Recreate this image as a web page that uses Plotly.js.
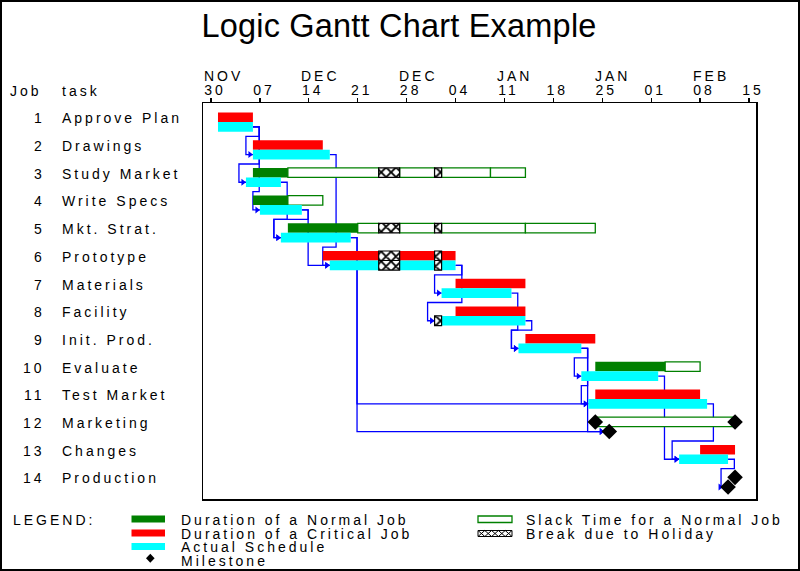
<!DOCTYPE html>
<html><head><meta charset="utf-8">
<script src="https://cdn.plot.ly/plotly-3.0.1.min.js"></script>
<style>
html,body{margin:0;padding:0;background:#fff;}
#chart{width:800px;height:571px;}
text{letter-spacing:3px;}
.gtitle{letter-spacing:0.2px;}
</style></head><body><div id="chart"></div>
<script>
// ---------------- data ----------------
const jobNumbers = [1,2,3,4,5,6,7,8,9,10,11,12,13,14];
const tasks = ['Approve Plan','Drawings','Study Market','Write Specs','Mkt. Strat.','Prototype','Materials','Facility','Init. Prod.','Evaluate','Test Market','Marketing','Changes','Production'];
const earlyStart  = ['2003-12-01','2003-12-06','2003-12-06','2003-12-06','2003-12-11','2003-12-16','2004-01-04','2004-01-04','2004-01-14','2004-01-24','2004-01-24','2004-01-24','2004-02-08','2004-02-13'];
const earlyFinish = ['2003-12-06','2003-12-16','2003-12-11','2003-12-11','2003-12-21','2004-01-04','2004-01-14','2004-01-14','2004-01-24','2004-02-03','2004-02-08','2004-01-24','2004-02-13','2004-02-13'];
const critical    = [true,true,false,false,false,true,true,true,true,false,true,false,true,true];
const lateFinish  = [null,null,'2004-01-14','2003-12-16','2004-01-24',null,null,null,null,'2004-02-08',null,'2004-02-13',null,null];
const slackBreak  = [null,null,'2004-01-09',null,'2004-01-14',null,null,null,null,null,null,null,null,null];
const actualStart = ['2003-12-01','2003-12-06','2003-12-05','2003-12-07','2003-12-10','2003-12-17','2004-01-02','2004-01-01','2004-01-13','2004-01-22','2004-01-23','2004-01-26','2004-02-05','2004-02-12'];
const actualFinish= ['2003-12-06','2003-12-17','2003-12-10','2003-12-13','2003-12-20','2004-01-04','2004-01-12','2004-01-14','2004-01-22','2004-02-02','2004-02-09','2004-01-26','2004-02-12','2004-02-12'];
const holidayStart = ['2003-12-24','2004-01-01'];
const holidayEnd   = ['2003-12-27','2004-01-02'];
const linkFrom = [1,1,1,2,3,4,4,5,5,6,6,7,8,9,9,9,10,11,13];
const linkTo   = [2,3,4,6,5,5,6,11,12,7,8,9,9,10,11,12,13,13,14];
const tickDates = ['2003-11-30','2003-12-07','2003-12-14','2003-12-21','2003-12-28','2004-01-04','2004-01-11','2004-01-18','2004-01-25','2004-02-01','2004-02-08','2004-02-15'];
const tickDayLabels   = ['30','07','14','21','28','04','11','18','25','01','08','15'];
const tickMonthLabels = ['NOV','','DEC','','DEC','','JAN','','JAN','','FEB',''];
const legendLeft  = ['Duration of a Normal Job','Duration of a Critical Job','Actual Schedule','Milestone'];
const legendRight = ['Slack Time for a Normal Job','Break due to Holiday'];

// ---------------- helpers ----------------
const FONT = '"Liberation Sans", Arial, Helvetica, sans-serif';
const T0 = Date.UTC(2003, 10, 30);
const day = s => { const p = s.split('-').map(Number); return (Date.UTC(p[0], p[1]-1, p[2]) - T0) / 864e5; };
const L = 203, R = 756, TOP = 103, BOT = 499;
const X0 = -1.145, X1 = 78.0, Y0 = 0.314, Y1 = 14.61;
const pxDay = (R - L) / (X1 - X0), pxRow = (BOT - TOP) / (Y1 - Y0);
const dX = p => p / pxDay, dY = p => p / pxRow;
const px = x => (x - L) / (R - L), py = y => (BOT - y) / (BOT - TOP);
const UP_C = -dY(4.75), UP_W = dY(9.5), LO_C = dY(4.85), LO_W = dY(9.7);
const hs = holidayStart.map(day), he = holidayEnd.map(day);

function split(a, b) {
  const work = [], hol = []; let cur = a;
  for (let i = 0; i < hs.length; i++) {
    const s = Math.max(hs[i], a), e = Math.min(he[i], b);
    if (e > s) { if (s > cur) work.push([cur, s]); hol.push([s, e]); cur = e; }
  }
  if (b > cur) work.push([cur, b]);
  return { work, hol };
}
const mk = () => ({ y: [], base: [], x: [], width: [] });
const red = mk(), green = mk(), slack = mk(), cyan = mk(), hol = mk();
const add = (t, yv, w, a, b) => { t.y.push(yv); t.base.push(a); t.x.push(b - a); t.width.push(w); };
const ms = { x: [], y: [] };

tasks.forEach((name, i) => {
  const k = i + 1, yU = k + UP_C, yL = k + LO_C;
  const es = day(earlyStart[i]), ef = day(earlyFinish[i]);
  if (ef > es) {
    const sp = split(es, ef);
    sp.work.forEach(s => add(critical[i] ? red : green, yU, UP_W, s[0], s[1]));
    sp.hol.forEach(s => add(hol, yU, UP_W, s[0], s[1]));
  } else { ms.x.push(ef); ms.y.push(yU); }
  if (lateFinish[i]) {
    const lf = day(lateFinish[i]);
    const cuts = [ef]; if (slackBreak[i]) cuts.push(day(slackBreak[i])); cuts.push(lf);
    for (let c = 0; c < cuts.length - 1; c++) {
      const sp = split(cuts[c], cuts[c+1]);
      sp.work.forEach(s => add(slack, yU, UP_W, s[0], s[1]));
      sp.hol.forEach(s => add(hol, yU, UP_W, s[0], s[1]));
    }
    if (ef === es) { ms.x.push(lf); ms.y.push(yU); }
  }
  const as = day(actualStart[i]), af = day(actualFinish[i]);
  if (af > as) {
    const sp = split(as, af);
    sp.work.forEach(s => add(cyan, yL, LO_W, s[0], s[1]));
    sp.hol.forEach(s => add(hol, yL, LO_W, s[0], s[1]));
  } else { ms.x.push(af); ms.y.push(yL); }
});

// logic links
const shapes = [];
const arrows = { x: [], y: [] };
linkFrom.forEach((f, j) => {
  const t = linkTo[j], pi = f - 1, si = t - 1;
  const xe = day(actualFinish[pi]), ye = f + LO_C;
  const xs = day(actualStart[si]), ys = t + LO_C;
  const isMs = actualStart[si] === actualFinish[si];
  const exitX = xe + dX(6.3), apprX = xs - dX(7);
  let pts;
  if (exitX <= apprX) pts = [[xe, ye], [exitX, ye], [exitX, ys], [xs, ys]];
  else { const gy = t - dY(13.4); pts = [[xe, ye], [exitX, ye], [exitX, gy], [apprX, gy], [apprX, ys], [xs, ys]]; }
  shapes.push({ type: 'path', xref: 'x', yref: 'y', layer: 'below',
    path: 'M' + pts.map(p => p[0] + ',' + p[1]).join(' L'), line: { color: '#0000ff', width: 1.3 } });
  arrows.x.push(xs - dX(isMs ? 8 : 3)); arrows.y.push(ys);
});

// ---------------- traces ----------------
const bar = (t, marker) => ({ type: 'bar', orientation: 'h', y: t.y, base: t.base, x: t.x, width: t.width,
  marker: marker, hoverinfo: 'skip', showlegend: false });
const traces = [
  bar(slack, { color: '#ffffff', line: { color: '#008000', width: 1.3 } }),
  bar(green, { color: '#008000', line: { width: 0 } }),
  bar(red,   { color: '#ff0000', line: { width: 0 } }),
  bar(cyan,  { color: '#00ffff', line: { width: 0 } }),
  bar(hol,   { color: '#ffffff', line: { color: '#000000', width: 1.2 },
               pattern: { shape: 'x', fgcolor: '#000000', bgcolor: '#ffffff', size: 7, solidity: 0.45 } }),
  { type: 'scatter', mode: 'markers', x: arrows.x, y: arrows.y, hoverinfo: 'skip', showlegend: false,
    marker: { symbol: 'triangle-right', size: 6, color: '#0000ff' } },
  { type: 'scatter', mode: 'markers', x: ms.x, y: ms.y, hoverinfo: 'skip', showlegend: false,
    marker: { symbol: 'diamond', size: 12, color: '#000000' } }
];

// ---------------- annotations ----------------
const ann = [];
const txt = (o) => Object.assign({ showarrow: false, borderpad: 0, borderwidth: 0,
  font: { family: FONT, size: 14, color: '#000' } }, o);
ann.push(txt({ text: 'Job', xref: 'paper', x: px(9.5), xanchor: 'left', yref: 'paper', y: py(90.5), yanchor: 'middle' }));
ann.push(txt({ text: 'task', xref: 'paper', x: px(61.5), xanchor: 'left', yref: 'paper', y: py(90.5), yanchor: 'middle' }));
tasks.forEach((name, i) => {
  const k = i + 1, yv = k - dY(3.7);
  ann.push(txt({ text: String(jobNumbers[i]), xref: 'paper', x: px(44.5), xanchor: 'right', yref: 'y', y: yv, yanchor: 'middle' }));
  ann.push(txt({ text: name, xref: 'paper', x: px(61.5), xanchor: 'left', yref: 'y', y: yv, yanchor: 'middle' }));
});
tickDates.forEach((d, i) => {
  if (tickMonthLabels[i]) ann.push(txt({ text: tickMonthLabels[i], xref: 'x', x: day(d), xanchor: 'left', xshift: -7.5,
    yref: 'paper', y: py(76), yanchor: 'middle' }));
});
// legend
ann.push(txt({ text: 'LEGEND:', xref: 'paper', x: px(12.5), xanchor: 'left', yref: 'paper', y: py(520), yanchor: 'middle' }));
const legY = [519.5, 533.5, 547, 560.5];
legendLeft.forEach((s, i) => ann.push(txt({ text: s, xref: 'paper', x: px(181), xanchor: 'left', yref: 'paper', y: py(legY[i]), yanchor: 'middle' })));
legendRight.forEach((s, i) => ann.push(txt({ text: s, xref: 'paper', x: px(526), xanchor: 'left', yref: 'paper', y: py(legY[i]), yanchor: 'middle' })));

const rectP = (x0, y0, x1, y1, fill, lc, lw) => ({ type: 'rect', xref: 'paper', yref: 'paper',
  x0: px(x0), x1: px(x1), y0: py(y0), y1: py(y1), fillcolor: fill, line: { color: lc || fill, width: lw || 0 } });
shapes.push(rectP(131.5, 515.5, 165, 522.5, '#008000'));
shapes.push(rectP(131.5, 529.5, 165, 536.5, '#ff0000'));
shapes.push(rectP(131.5, 543, 165, 550, '#00ffff'));
shapes.push({ type: 'path', xref: 'paper', yref: 'paper', fillcolor: '#000', line: { width: 0 },
  path: `M${px(146)},${py(558.3)} L${px(150.3)},${py(553.8)} L${px(154.6)},${py(558.3)} L${px(150.3)},${py(562.8)} Z` });
shapes.push(rectP(478, 516, 512, 522.5, '#ffffff', '#008000', 1.3));
shapes.push(rectP(478, 530.5, 512, 536.5, '#ffffff', '#000000', 1));
let hp = '';
for (let x = 478; x < 511.9; x += 6.8) {
  hp += `M${px(x)},${py(530.5)} L${px(x + 6.8)},${py(536.5)} M${px(x + 6.8)},${py(530.5)} L${px(x)},${py(536.5)} `;
}
shapes.push({ type: 'path', xref: 'paper', yref: 'paper', path: hp, line: { color: '#000', width: 1 } });
// outer border
shapes.push({ type: 'rect', xref: 'paper', yref: 'paper', x0: px(1), x1: px(799), y0: py(1), y1: py(570),
  line: { color: '#000', width: 2 }, fillcolor: 'rgba(0,0,0,0)' });

const layout = {
  width: 800, height: 571, margin: { l: L, r: 800 - R, t: TOP, b: 571 - BOT, pad: 0 },
  paper_bgcolor: '#ffffff', plot_bgcolor: '#ffffff',
  font: { family: FONT, size: 14, color: '#000' },
  title: { text: 'Logic Gantt Chart Example', font: { family: FONT, size: 32.5, color: '#000' },
    xref: 'container', x: 399 / 800, xanchor: 'center', yref: 'container', y: 1 - 25.3 / 571, yanchor: 'middle' },
  barmode: 'overlay', showlegend: false,
  xaxis: { range: [X0, X1], side: 'top', tickmode: 'array', tickvals: tickDates.map(day), ticktext: tickDayLabels,
    ticks: 'outside', ticklen: 4, tickwidth: 1.3, tickcolor: '#000', showline: true, linecolor: '#000', linewidth: 1.5,
    mirror: true, showgrid: false, zeroline: false, ticklabelshift: 4, ticklabelstandoff: -3,
    tickfont: { family: FONT, size: 14, color: '#000' }, fixedrange: true },
  yaxis: { range: [Y1, Y0], showline: true, linecolor: '#000', linewidth: 1.5, mirror: true, showgrid: false,
    zeroline: false, showticklabels: false, ticks: '', fixedrange: true },
  shapes: shapes, annotations: ann
};
Plotly.newPlot('chart', traces, layout, { staticPlot: true, displayModeBar: false });
</script></body></html>
